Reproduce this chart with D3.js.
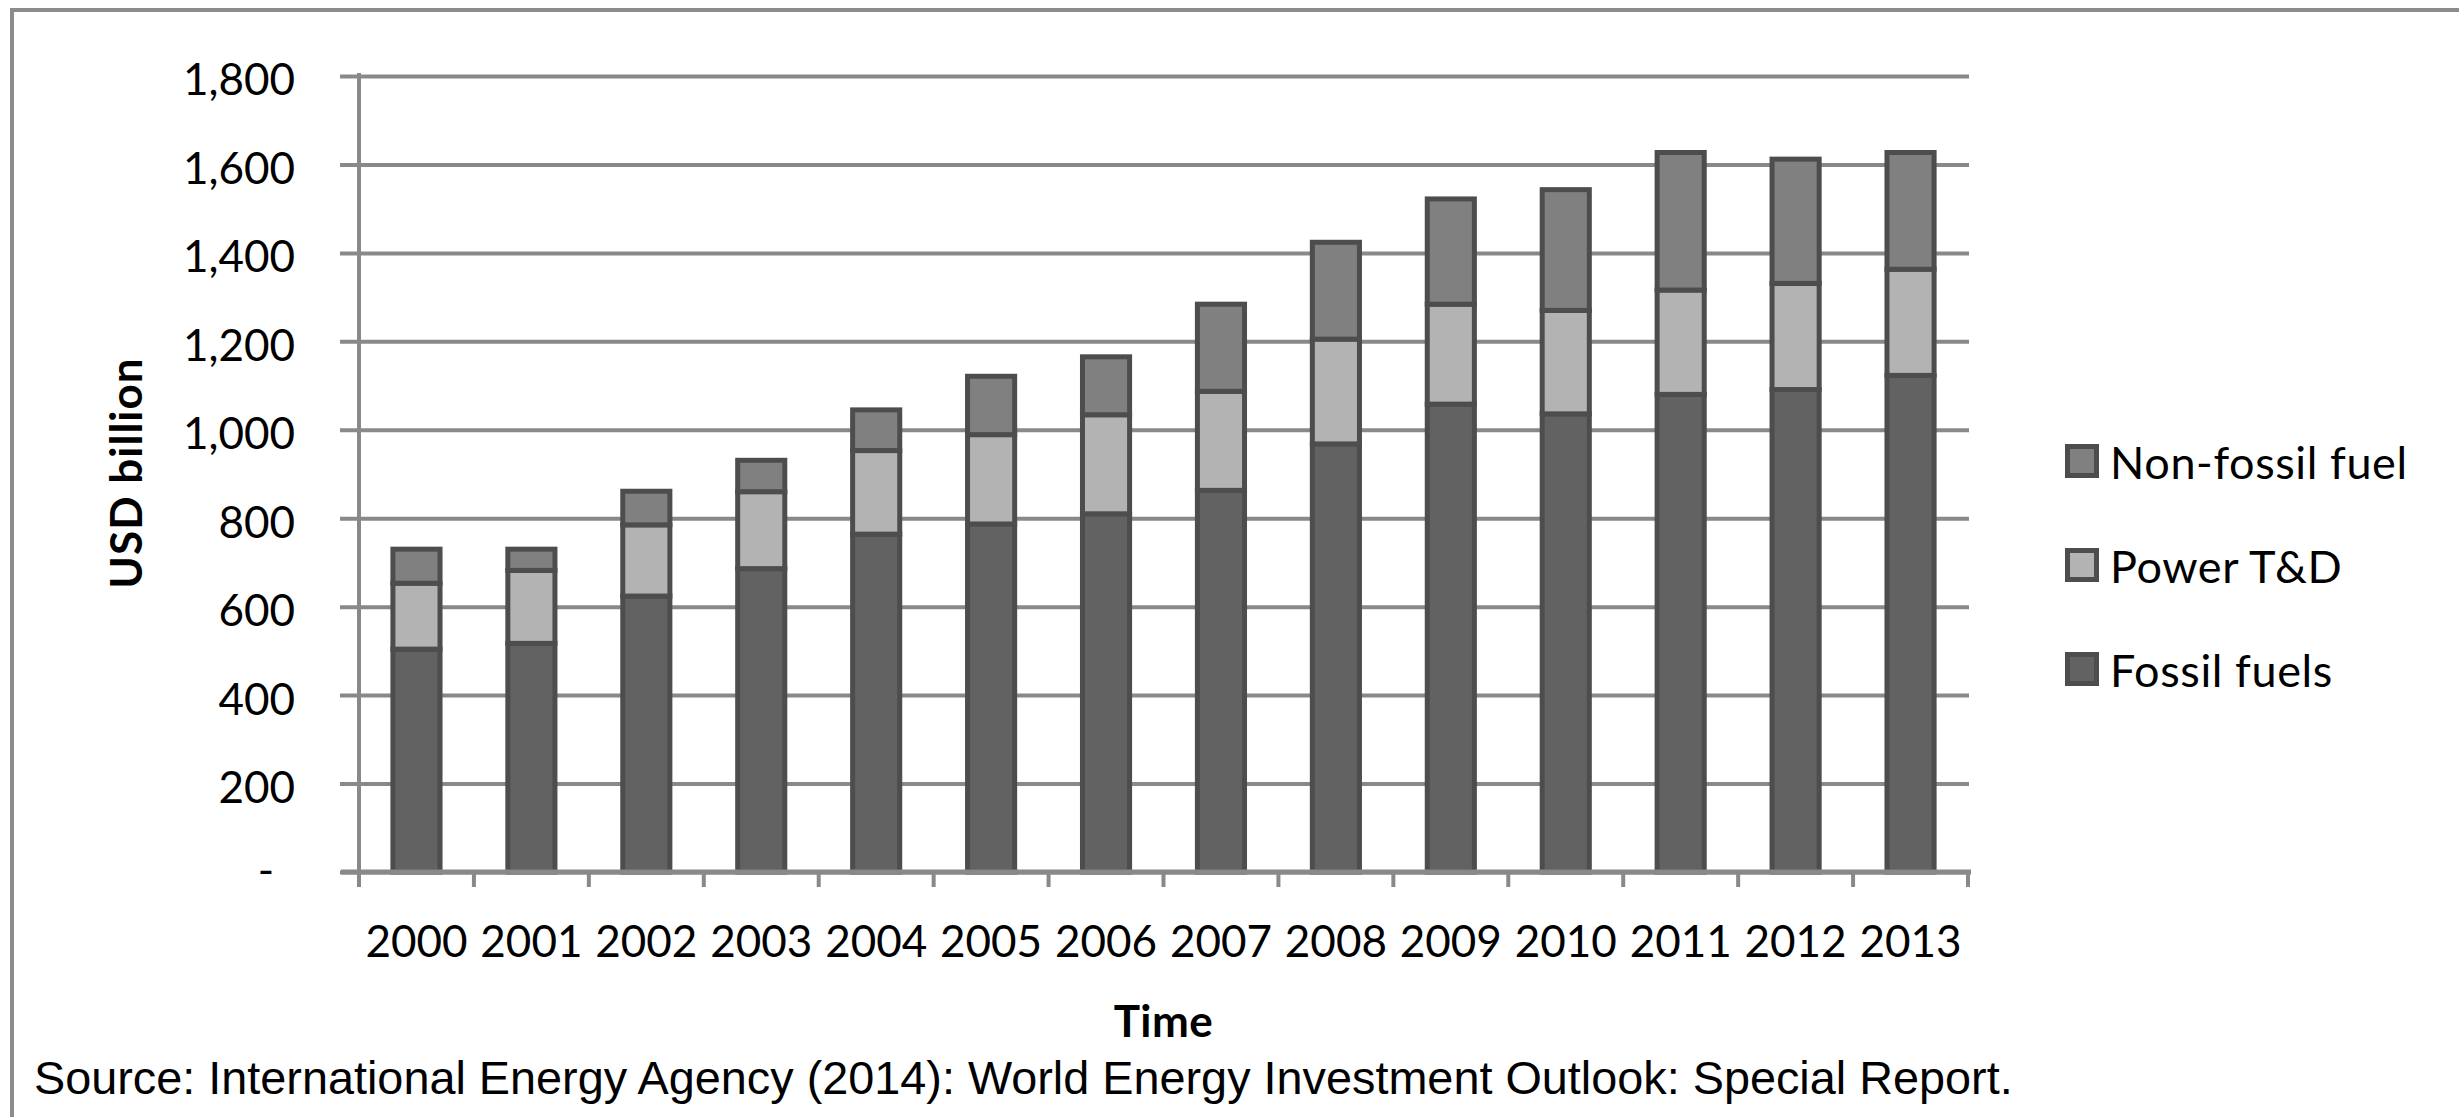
<!DOCTYPE html>
<html>
<head>
<meta charset="utf-8">
<script src="https://cdn.jsdelivr.net/npm/d3@7"></script>
<style>
  html, body { margin: 0; padding: 0; background: #ffffff; }
  svg { display: block; }
</style>
</head>
<body>
<script>
// Energy investment by category, USD billion
const years = ["2000","2001","2002","2003","2004","2005","2006","2007","2008","2009","2010","2011","2012","2013"];
const fossilFuels = [504, 517, 624, 686, 764, 787, 810, 863, 968, 1058, 1036, 1080, 1091, 1123];
const powerTD     = [149, 165, 161, 174, 189, 202, 224, 224, 237, 226, 234, 236, 240, 240];
const nonFossil   = [ 77,  48,  76,  71,  92, 132, 131, 197, 219, 238, 273, 311, 281, 264];

const seriesKeys   = ["fossil", "power", "nonfossil"];
const seriesNames  = ["Fossil fuels", "Power T&D", "Non-fossil fuel"];
const seriesColors = ["#626262", "#b3b3b3", "#808080"];
const yTickValues  = [0, 200, 400, 600, 800, 1000, 1200, 1400, 1600, 1800];

const yTitle = "USD billion";
const xTitle = "Time";
const sourceNote = "Source: International Energy Agency (2014): World Energy Investment Outlook: Special Report.";

const W = 2459, H = 1117;
const plot = { left: 359, right: 1968, top: 76, bottom: 872 };
const gridColor = "#898989";
const edgeColor = "#4d4d4d";
const labelFont = "Lato, 'Open Sans', sans-serif";

const rows = years.map((y, i) => ({ year: y, fossil: fossilFuels[i], power: powerTD[i], nonfossil: nonFossil[i] }));

const svg = d3.select("body").append("svg")
  .attr("width", W).attr("height", H)
  .attr("viewBox", `0 0 ${W} ${H}`);

svg.append("rect").attr("width", W).attr("height", H).attr("fill", "#ffffff");

// outer frame (runs off the right and bottom edges)
svg.append("rect")
  .attr("x", 12).attr("y", 10)
  .attr("width", W + 40).attr("height", H + 40)
  .attr("fill", "none").attr("stroke", "#8c8c8c").attr("stroke-width", 4);

const x = d3.scaleBand()
  .domain(years)
  .range([plot.left, plot.right])
  .paddingInner(0.59)
  .paddingOuter(0.295);

const y = d3.scaleLinear()
  .domain([0, 1800])
  .range([plot.bottom, plot.top]);

// horizontal gridlines + y tick labels
const gridLeft = 340, gridRight = 1969;
const yAxis = svg.append("g")
  .attr("transform", `translate(${gridLeft},0)`)
  .call(d3.axisLeft(y)
    .tickValues(yTickValues)
    .tickSizeInner(-(gridRight - gridLeft))
    .tickSizeOuter(0)
    .tickPadding(45)
    .tickFormat(d => d === 0 ? "-" : d3.format(",")(d)));
yAxis.select(".domain").remove();
yAxis.selectAll(".tick line").attr("stroke", gridColor).attr("stroke-width", 4);
yAxis.selectAll(".tick text")
  .attr("fill", "#000")
  .style("font-family", labelFont)
  .style("font-size", "44px")
  .attr("dy", "0.43em");
yAxis.selectAll(".tick").filter(d => d === 0).select("text").attr("dx", -21).attr("dy", "0.3em");

// vertical axis line
svg.append("line")
  .attr("x1", plot.left).attr("x2", plot.left)
  .attr("y1", plot.top - 3).attr("y2", plot.bottom)
  .attr("stroke", gridColor).attr("stroke-width", 4);

// stacked bars
const stack = d3.stack().keys(seriesKeys)(rows);
svg.append("g").selectAll("g")
  .data(stack)
  .join("g")
  .attr("fill", (d, i) => seriesColors[i])
  .selectAll("rect")
  .data(d => d)
  .join("rect")
  .attr("x", d => x(d.data.year))
  .attr("width", x.bandwidth())
  .attr("y", d => y(d[1]))
  .attr("height", d => y(d[0]) - y(d[1]))
  .attr("stroke", edgeColor)
  .attr("stroke-width", 5);

// horizontal axis line with category boundary ticks
const step = x.step();
const boundaries = years.map(d => x(d) - (step - x.bandwidth()) / 2).concat([plot.right]);
svg.append("line")
  .attr("x1", gridLeft + 1).attr("x2", plot.right + 3)
  .attr("y1", plot.bottom).attr("y2", plot.bottom)
  .attr("stroke", gridColor).attr("stroke-width", 5);
svg.append("g").selectAll("line")
  .data(boundaries)
  .join("line")
  .attr("x1", d => d).attr("x2", d => d)
  .attr("y1", plot.bottom).attr("y2", plot.bottom + 15)
  .attr("stroke", gridColor).attr("stroke-width", 4);

// year labels
const xAxis = svg.append("g")
  .attr("transform", `translate(0,${plot.bottom})`)
  .call(d3.axisBottom(x).tickSize(0).tickPadding(54));
xAxis.select(".domain").remove();
xAxis.selectAll(".tick text")
  .attr("fill", "#000")
  .style("font-family", labelFont)
  .style("font-size", "44px");

// axis titles
svg.append("text")
  .attr("transform", "translate(142,473) rotate(-90)")
  .attr("text-anchor", "middle")
  .style("font-family", labelFont)
  .style("font-size", "44px")
  .style("font-weight", "bold")
  .style("letter-spacing", "1px")
  .text(yTitle);

svg.append("text")
  .attr("x", (plot.left + plot.right) / 2)
  .attr("y", 1037)
  .attr("text-anchor", "middle")
  .style("font-family", labelFont)
  .style("font-size", "44px")
  .style("font-weight", "bold")
  .style("letter-spacing", "0.5px")
  .text(xTitle);

// legend (top to bottom: Non-fossil fuel, Power T&D, Fossil fuels)
const legendOrder = [2, 1, 0];
const legend = svg.append("g").selectAll("g")
  .data(legendOrder)
  .join("g")
  .attr("transform", (d, i) => `translate(2065,${444 + i * 104})`);
legend.append("rect")
  .attr("x", 2.5).attr("y", 2.5)
  .attr("width", 29).attr("height", 29)
  .attr("fill", d => seriesColors[d])
  .attr("stroke", edgeColor)
  .attr("stroke-width", 5);
legend.append("text")
  .attr("x", 45).attr("y", 35)
  .style("font-family", labelFont)
  .style("font-size", "45px")
  .style("letter-spacing", "0.6px")
  .text(d => seriesNames[d]);

// source note
svg.append("text")
  .attr("x", 34).attr("y", 1094)
  .style("font-family", "'Liberation Sans', Arial, sans-serif")
  .style("font-size", "46.8px")
  .text(sourceNote);
</script>
</body>
</html>
